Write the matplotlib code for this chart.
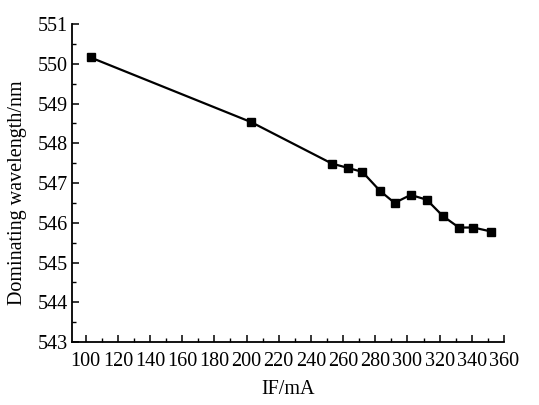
import matplotlib
matplotlib.use("Agg")
import matplotlib.pyplot as plt
from matplotlib.ticker import MultipleLocator

current_ma = [103, 203, 253, 263, 272, 283, 292, 302, 312, 322, 332, 341, 352]
wavelength_nm = [550.16, 548.53, 547.49, 547.38, 547.28, 546.80, 546.50,
                 546.70, 546.58, 546.17, 545.88, 545.88, 545.78]
x_ticks = list(range(100, 361, 20))
y_ticks = list(range(543, 552, 1))

plt.rcParams['font.family'] = ['Liberation Serif', 'DejaVu Serif']

fig = plt.figure(figsize=(5.39, 4.05), dpi=100)
ax = fig.add_axes([0.1336, 0.1556, 0.8014, 0.785])

ax.plot(current_ma, wavelength_nm, color='black', linewidth=1.6,
        marker='s', markersize=5.8, markerfacecolor='black',
        markeredgecolor='black')

ax.set_xlim(91.5, 360)
ax.set_ylim(543, 551)
ax.set_xticks(x_ticks)
ax.set_yticks(y_ticks)
ax.xaxis.set_minor_locator(MultipleLocator(10))
ax.yaxis.set_minor_locator(MultipleLocator(0.5))

ax.spines['top'].set_visible(False)
ax.spines['right'].set_visible(False)
for s in ('left', 'bottom'):
    ax.spines[s].set_linewidth(1.3)

ax.tick_params(axis='both', which='major', direction='in', length=5,
               width=1.1, labelsize=14.5)
ax.tick_params(axis='y', which='major', pad=3)
ax.tick_params(axis='x', which='major', pad=7)
ax.tick_params(axis='both', which='minor', direction='in', length=3,
               width=1.0)
ax.set_yticklabels([str(v) for v in y_ticks])
ax.set_xticklabels([str(v) for v in x_ticks])

ax.set_xlabel('IF/mA', fontsize=14.5, labelpad=7)
ax.set_ylabel('Dominating wavelength/nm', fontsize=14.5)
ax.yaxis.set_label_coords(-0.104, 0.469)

fig.savefig('out.png', dpi=100)
